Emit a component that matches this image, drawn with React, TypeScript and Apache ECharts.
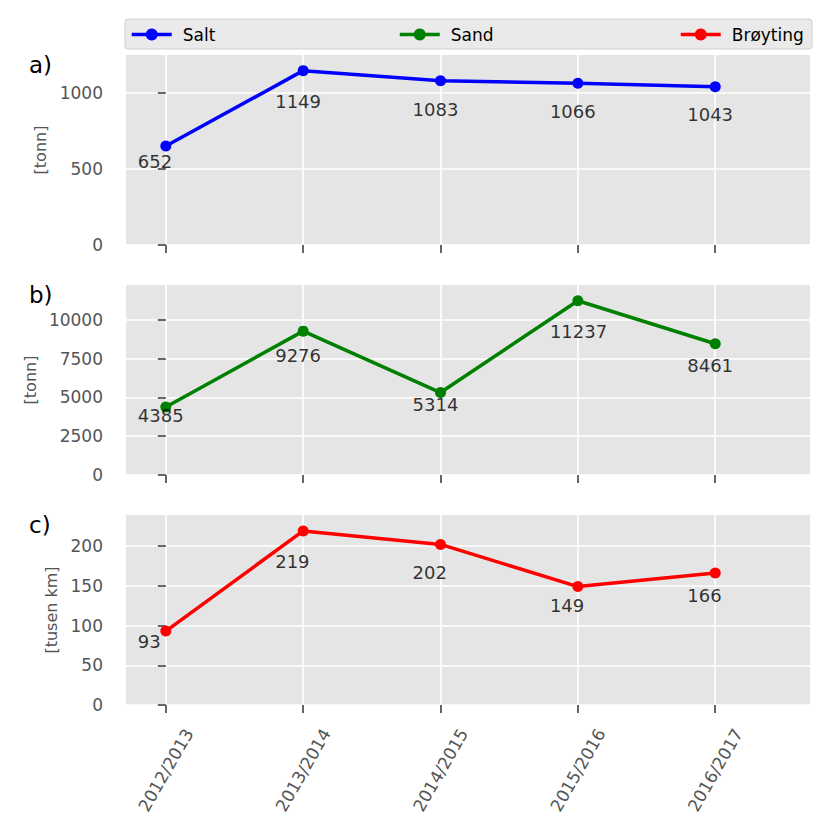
import React, { useEffect, useRef } from 'react';
import * as echarts from 'echarts';

const seasons = ['2012/2013', '2013/2014', '2014/2015', '2015/2016', '2016/2017'];
const saltValues = [652, 1149, 1083, 1066, 1043];
const sandValues = [4385, 9276, 5314, 11237, 8461];
const broytingValues = [93, 219, 202, 149, 166];
const seriesNames = ['Salt', 'Sand', 'Brøyting'];
const seriesColors = ['#0000ff', '#008000', '#ff0000'];
const panelLabels = ['a)', 'b)', 'c)'];
const yAxisNames = ['[tonn]', '[tonn]', '[tusen km]'];
const yTicks = [
  [0, 500, 1000],
  [0, 2500, 5000, 7500, 10000],
  [0, 50, 100, 150, 200],
];
const yMaxes = [1252, 12250, 239];

const FONT = 'DejaVu Sans';

export default function App() {
  const ref = useRef<HTMLDivElement>(null);

  useEffect(() => {
    if (!ref.current) return;
    const chart = echarts.init(ref.current, undefined, { renderer: 'svg' });
    const allValues = [saltValues, sandValues, broytingValues];
    const gridTops = [55, 285, 515];
    const nameGaps = [71, 80, 63];
    const xIdx = seasons.map((_, i) => i);

    const grids = gridTops.map((t) => ({
      left: 126,
      right: 23,
      top: t,
      height: 190,
      show: true,
      backgroundColor: '#e5e5e5',
      borderWidth: 0,
    }));

    const xAxes = gridTops.map((_, k) => ({
      type: 'value',
      gridIndex: k,
      min: -0.29,
      max: 4.69,
      offset: 3,
      axisLine: { show: false },
      axisTick: {
        show: true,
        length: 8,
        customValues: xIdx,
        lineStyle: { color: '#555', width: 1.8 },
      },
      axisLabel:
        k === 2
          ? {
              show: true,
              customValues: xIdx,
              formatter: (v: number) => seasons[Math.round(v)],
              rotate: 60,
              align: 'center',
              verticalAlign: 'middle',
              margin: 62,
              fontSize: 17,
              color: '#555',
              fontFamily: FONT,
            }
          : { show: false },
      splitLine: { show: true, lineStyle: { color: '#ffffff', width: 1.7 } },
    }));

    const yAxes = gridTops.map((_, k) => ({
      type: 'value',
      gridIndex: k,
      min: 0,
      max: yMaxes[k],
      offset: 3,
      name: yAxisNames[k],
      nameLocation: 'middle',
      nameGap: nameGaps[k],
      nameTextStyle: { fontSize: 16, color: '#555', fontFamily: FONT },
      axisLine: { show: false },
      axisTick: {
        show: true,
        length: 8,
        customValues: yTicks[k],
        lineStyle: { color: '#555', width: 1.8 },
      },
      axisLabel: {
        customValues: yTicks[k],
        formatter: (v: number) => String(v),
        margin: 20,
        fontSize: 17,
        color: '#555',
        fontFamily: FONT,
      },
      splitLine: { show: true, lineStyle: { color: '#ffffff', width: 1.7 } },
    }));

    const series: any[] = [];
    allValues.forEach((vals, k) => {
      series.push({
        type: 'line',
        name: seriesNames[k],
        xAxisIndex: k,
        yAxisIndex: k,
        data: vals.map((v, i) => [i, v]),
        symbol: 'circle',
        symbolSize: 11,
        color: seriesColors[k],
        lineStyle: { width: 3.5, color: seriesColors[k] },
        itemStyle: { color: seriesColors[k] },
        z: 3,
      });
    });
    allValues.forEach((vals, k) => {
      series.push({
        type: 'scatter',
        name: 'lbl' + k,
        xAxisIndex: k,
        yAxisIndex: k,
        data: vals.map((v, i) => [i - 0.2, v * 0.79, v]),
        symbolSize: 1,
        itemStyle: { color: 'transparent' },
        silent: true,
        z: 5,
        label: {
          show: true,
          position: [0, 0],
          align: 'left',
          verticalAlign: 'bottom',
          offset: [0, 4],
          fontSize: 18,
          color: '#000000',
          fontFamily: FONT,
          formatter: (p: any) => String(p.value[2]),
        },
      });
    });

    const legendLefts = [130, 398, 679];
    const legends = seriesNames.map((n, k) => ({
      data: [n],
      left: legendLefts[k],
      top: 26,
      padding: 0,
      itemWidth: 40,
      itemHeight: 15,
      itemGap: 0,
      lineStyle: { width: 3.5 },
      textStyle: {
        fontSize: 17,
        color: '#000',
        fontFamily: FONT,
        padding: [0, 0, 0, 6],
      },
    }));

    const graphics: any[] = [
      {
        type: 'rect',
        z: 0,
        shape: { x: 125, y: 19, width: 687, height: 30, r: 3 },
        style: { fill: '#eaeaea', stroke: '#d0d0d0', lineWidth: 1 },
      },
      ...panelLabels.map((t, k) => ({
        type: 'text',
        left: 29,
        top: gridTops[k] - 2,
        style: { text: t, fontSize: 23, fill: '#000', fontFamily: FONT },
      })),
    ];

    chart.setOption({
      animation: false,
      backgroundColor: '#ffffff',
      textStyle: { fontFamily: FONT },
      grid: grids,
      xAxis: xAxes,
      yAxis: yAxes,
      legend: legends,
      graphic: graphics,
      series,
    });

    return () => {
      chart.dispose();
    };
  }, []);

  return (
    <div
      ref={ref}
      style={{ position: 'fixed', left: 0, top: 0, width: 833, height: 833 }}
    />
  );
}
